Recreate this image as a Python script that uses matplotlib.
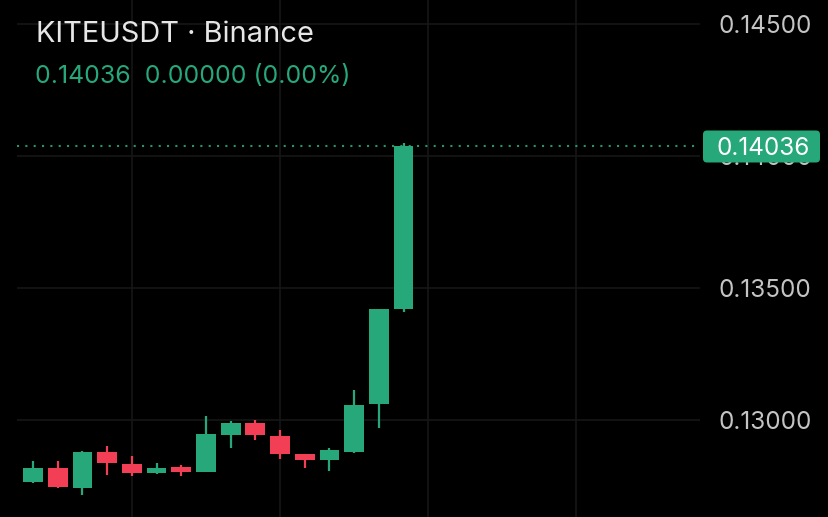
"""
KITEUSDT candlestick chart, dark theme
"""
import matplotlib
matplotlib.use('Agg')
import matplotlib.pyplot as plt
import matplotlib.transforms as mtransforms
from matplotlib.patches import FancyBboxPatch

opens = [0.127663, 0.128182, 0.127436, 0.128776, 0.128322, 0.127981, 0.128208, 0.128030,
         0.129443, 0.129875, 0.129383, 0.128723, 0.128473, 0.128788, 0.130595, 0.134216]
closes = [0.128182, 0.127473, 0.128776, 0.128371, 0.128004, 0.128182, 0.128030, 0.129458,
          0.129875, 0.129420, 0.128712, 0.128485, 0.128852, 0.130557, 0.134216, 0.140360]
highs = [0.128458, 0.128436, 0.128826, 0.129015, 0.128625, 0.128383, 0.128284, 0.130152,
         0.129951, 0.130000, 0.129610, 0.128730, 0.128928, 0.131125, 0.134216, 0.140480]
lows = [0.127614, 0.127436, 0.127170, 0.127905, 0.127879, 0.127970, 0.127890, 0.128020,
        0.128928, 0.129242, 0.128523, 0.128193, 0.128080, 0.128750, 0.129686, 0.134102]

last_price = 0.14036
y_ticks = [0.130, 0.135, 0.140, 0.145]
y_labels = ['0.13000', '0.13500', '0.14000', '0.14500']
x_grid = [4, 10, 16, 22]

GREEN = '#26a87a'
RED = '#f23f56'
GRID = '#161616'
LABEL = '#c4c4c4'

plt.rcParams['font.family'] = ['Inter', 'DejaVu Sans']

W, H = 829, 517
fig = plt.figure(figsize=(W / 100, H / 100), dpi=100, facecolor='black')
ax = fig.add_axes([17 / W, 0, (700 - 17) / W, 1])
ax.set_facecolor('black')

for i, (o, c, h, l) in enumerate(zip(opens, closes, highs, lows)):
    col = GREEN if c >= o else RED
    ax.vlines(i, l, h, color=col, linewidth=1.6, zorder=3)
    ax.bar(i, abs(c - o), bottom=min(o, c), width=0.8, color=col, zorder=4)

ax.axhline(last_price, color=GREEN, linestyle=(0, (1, 3)), linewidth=1.5, alpha=0.9, zorder=2)

ax.set_xlim(-0.648, 27.0)
ax.set_ylim(0.126326, 0.145909)

ax.set_xticks(x_grid)
ax.set_xticklabels([])
ax.tick_params(axis='x', length=0)
ax.yaxis.tick_right()
ax.set_yticks(y_ticks)
ax.set_yticklabels(y_labels)
ax.tick_params(axis='y', length=0, pad=13, labelsize=17.5, labelcolor=LABEL)
ax.grid(color=GRID, linewidth=1.2)
ax.set_axisbelow(True)
for s in ax.spines.values():
    s.set_visible(False)

# last price label on the price scale
py = ax.transData.transform((0, last_price))[1]
box = FancyBboxPatch((703, py - 16), 117, 32, boxstyle='round,pad=0,rounding_size=4',
                     transform=mtransforms.IdentityTransform(), fc=GREEN, ec='none', zorder=5)
fig.patches.append(box)
fig.text(763 / W, py / H, f'{last_price:.5f}', ha='center', va='center_baseline',
         fontsize=17.5, color='white', zorder=6)

fig.text(36 / W, 1 - 34 / H, 'KITEUSDT · Binance', color='#e6e6e6', fontsize=20.9,
         ha='left', va='center')
fig.text(35 / W, 1 - 76 / H, '0.14036  0.00000 (0.00%)', color=GREEN, fontsize=17.9,
         ha='left', va='center')

fig.savefig('out.png', dpi=100, facecolor='black')
